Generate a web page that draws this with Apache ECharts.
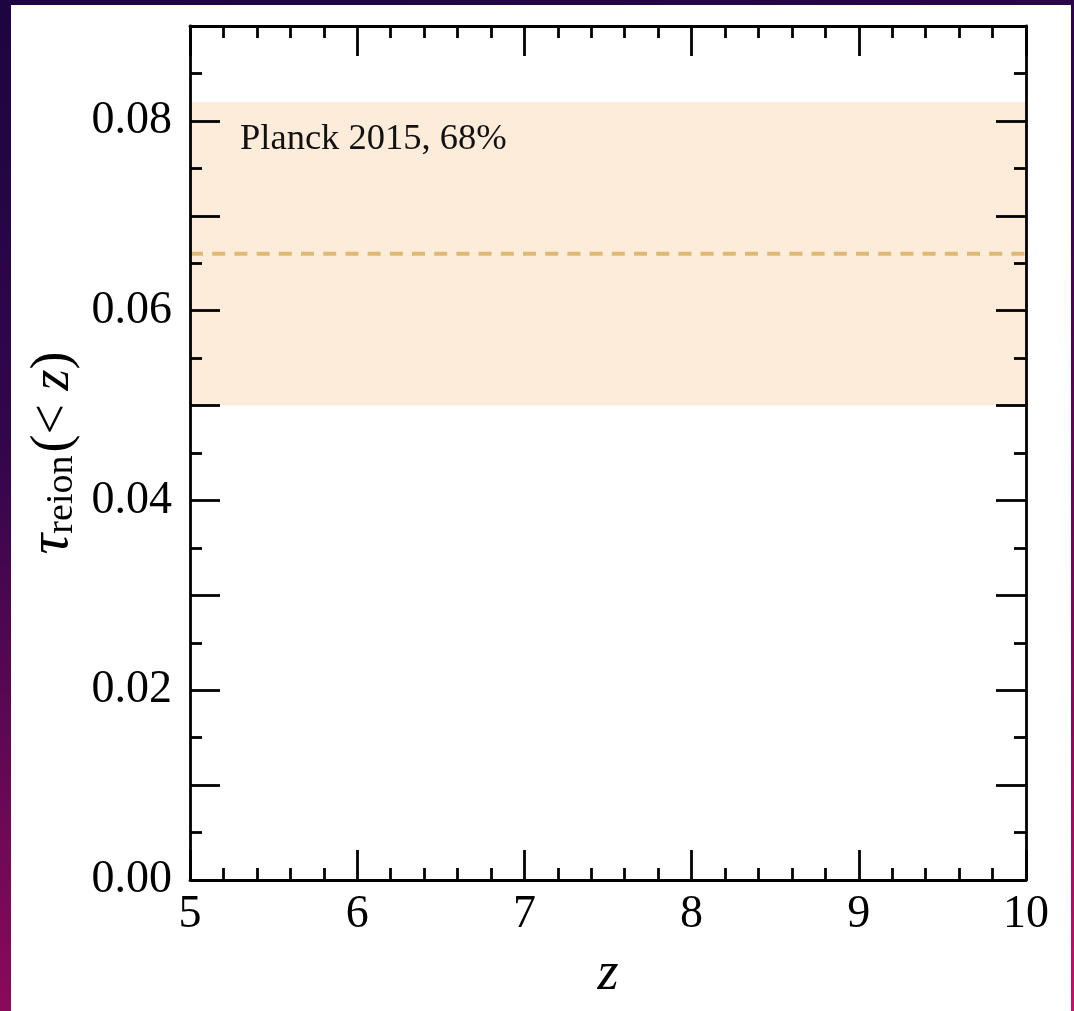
<!DOCTYPE html>
<html>
<head>
<meta charset="utf-8">
<script src="https://cdn.jsdelivr.net/npm/echarts@6/dist/echarts.min.js"></script>
<style>
  html, body { margin: 0; padding: 0; width: 1074px; height: 1011px; overflow: hidden; }
  body { background: linear-gradient(165deg, #1c0540 0%, #33064c 35%, #8a0a5a 78%, #c8106c 100%); position: relative; }
  #panel { position: absolute; left: 11px; top: 5px; width: 1060px; height: 1006px; background: #ffffff; }
  #chart { position: absolute; left: 0; top: 0; width: 1074px; height: 1011px; }
</style>
</head>
<body>
<div id="panel"></div>
<div id="chart"></div>
<script>
// Axis ranges and ticks
const zRange = [5, 10];
const zTicks = [5, 6, 7, 8, 9, 10];
const tauRange = [0, 0.09];
const tauTickLabels = ['0.00', '0.02', '0.04', '0.06', '0.08'];

// Planck 2015 optical depth: central value and 68% interval
const planckCentral = 0.066;
const planckLow = 0.050;
const planckHigh = 0.082;
const planckLabel = 'Planck 2015, 68%';

const FONT = 'Liberation Serif';
const chart = echarts.init(document.getElementById('chart'), null, { renderer: 'canvas' });

const axisLine = { show: true, onZero: false, lineStyle: { color: '#000', width: 2.8 } };
const majorTick = () => ({ show: true, inside: true, length: 30, lineStyle: { color: '#000', width: 2.8 } });
const minorTick = (n) => ({ show: true, splitNumber: n, length: 12, lineStyle: { color: '#000', width: 2.8 } });

chart.setOption({
  backgroundColor: 'transparent',
  animation: false,
  grid: { left: 190, top: 26, right: 48, bottom: 131, containLabel: false },
  xAxis: [
    {
      type: 'value', min: zRange[0], max: zRange[1], interval: 1, position: 'bottom', z: 10,
      axisLine, axisTick: majorTick(), minorTick: minorTick(5), splitLine: { show: false },
      axisLabel: {
        show: true, margin: 12, color: '#000', fontFamily: FONT, fontSize: 46,
        formatter: (v) => zTicks.includes(v) ? String(v) : ''
      },
      name: 'z', nameLocation: 'middle', nameGap: 68,
      nameTextStyle: { fontFamily: FONT, fontStyle: 'italic', fontSize: 54, color: '#000' }
    },
    {
      type: 'value', min: zRange[0], max: zRange[1], interval: 1, position: 'top', z: 10,
      axisLine, axisTick: majorTick(), minorTick: minorTick(5), splitLine: { show: false },
      axisLabel: { show: false }
    }
  ],
  yAxis: [
    {
      type: 'value', min: tauRange[0], max: tauRange[1], interval: 0.01, position: 'left', z: 10,
      axisLine, axisTick: majorTick(), minorTick: minorTick(2), splitLine: { show: false },
      axisLabel: {
        show: true, margin: 18, color: '#000', fontFamily: FONT, fontSize: 46,
        formatter: (v) => {
          const s = v.toFixed(2);
          return tauTickLabels.includes(s) ? s : '';
        }
      },
      name: '{tau|τ}{sub|reion}{n|(< }{it|z}{n|)}',
      nameLocation: 'middle', nameGap: 106, nameRotate: 90,
      nameTextStyle: {
        color: '#000', fontFamily: FONT,
        rich: {
          tau: { fontFamily: FONT, fontStyle: 'italic', fontSize: 58, color: '#000', verticalAlign: 'bottom', lineHeight: 60 },
          sub: { fontFamily: FONT, fontSize: 38, color: '#000', verticalAlign: 'bottom', lineHeight: 42, padding: [0, 3, 0, 0] },
          n: { fontFamily: FONT, fontSize: 54, color: '#000', verticalAlign: 'bottom', lineHeight: 60 },
          it: { fontFamily: FONT, fontStyle: 'italic', fontSize: 54, color: '#000', verticalAlign: 'bottom', lineHeight: 60 }
        }
      }
    },
    {
      type: 'value', min: tauRange[0], max: tauRange[1], interval: 0.01, position: 'right', z: 10,
      axisLine, axisTick: majorTick(), minorTick: minorTick(2), splitLine: { show: false },
      axisLabel: { show: false }
    }
  ],
  series: [
    {
      type: 'line',
      xAxisIndex: 0, yAxisIndex: 0,
      data: [[zRange[0], planckCentral], [zRange[1], planckCentral]],
      symbol: 'none',
      lineStyle: { color: '#dcba76', width: 4, type: [13, 9.2] },
      z: 3,
      markArea: {
        silent: true,
        itemStyle: { color: '#feecdb' },
        label: {
          show: true, position: 'insideTopLeft', offset: [45, 14],
          color: '#111', fontFamily: FONT, fontSize: 36.5
        },
        data: [[
          { name: planckLabel, coord: [zRange[0], planckHigh] },
          { coord: [zRange[1], planckLow] }
        ]]
      }
    }
  ]
});
</script>
</body>
</html>
